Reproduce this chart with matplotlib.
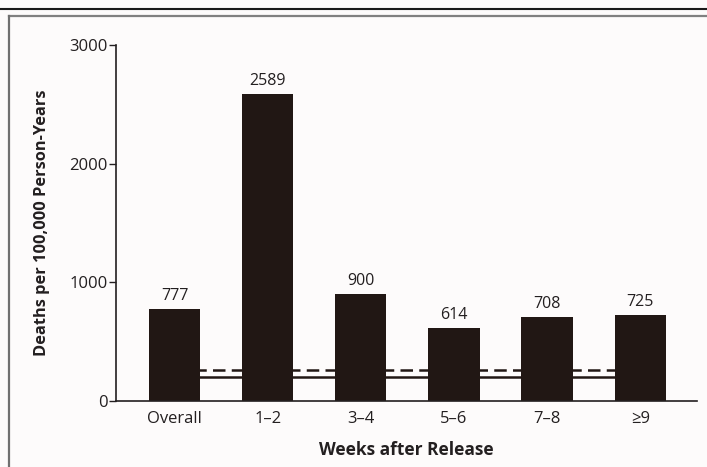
import matplotlib.pyplot as plt
from matplotlib.lines import Line2D

categories = ["Overall", "1\u20132", "3\u20134", "5\u20136", "7\u20138", "\u22659"]
death_rates = [777, 2589, 900, 614, 708, 725]
ref_solid = 205
ref_dashed = 265
y_ticks = [0, 1000, 2000, 3000]

plt.rcParams['font.family'] = ['Open Sans', 'DejaVu Sans']
BAR = '#211714'
BG = '#fdfbfb'
TXT = '#231f20'

fig = plt.figure(figsize=(7.07, 4.67), dpi=100, facecolor=BG)
ax = fig.add_axes([116 / 707, 1 - 401 / 467, (697 - 116) / 707, (401 - 45) / 467])
ax.set_facecolor(BG)

x = list(range(len(categories)))
ax.hlines([ref_solid], 0, len(categories) - 1, colors=BAR, linewidth=1.8, zorder=1)
ax.hlines([ref_dashed], 0, len(categories) - 1, colors=BAR, linewidth=1.8,
          linestyles=(0, (5, 2.5)), zorder=1)
ax.bar(x, death_rates, width=0.55, color=BAR, zorder=2)
for i, v in enumerate(death_rates):
    ax.text(i, v + 40, str(v), ha='center', va='bottom', fontsize=11.5, color=TXT)

ax.set_xlim(-0.63, 5.61)
ax.set_ylim(0, 3000)
ax.set_yticks(y_ticks)
ax.set_xticks(x)
ax.set_xticklabels(categories)
ax.tick_params(axis='y', direction='out', length=5, width=1, labelsize=12,
               colors=TXT, pad=1)
ax.tick_params(axis='x', length=0, labelsize=12, colors=TXT, pad=7)
for s in ['top', 'right']:
    ax.spines[s].set_visible(False)
for s in ['left', 'bottom']:
    ax.spines[s].set_color(TXT)
    ax.spines[s].set_linewidth(1.2)

ax.set_ylabel("Deaths per 100,000 Person-Years", fontsize=11.8, fontweight='bold',
              color=TXT, labelpad=14)
ax.set_xlabel("Weeks after Release", fontsize=12.5, fontweight='bold',
              color=TXT, labelpad=10)

# frame lines
fig.add_artist(Line2D([0, 1], [1 - 9 / 467, 1 - 9 / 467], color='#1a1a1a', linewidth=1.5))
fig.add_artist(Line2D([8.5 / 707, 1], [1 - 16 / 467, 1 - 16 / 467], color='#808080', linewidth=1.6))
fig.add_artist(Line2D([8.5 / 707, 8.5 / 707], [0, 1 - 16 / 467], color='#707070', linewidth=1.6))

fig.savefig("out.png", dpi=100, facecolor=BG)
